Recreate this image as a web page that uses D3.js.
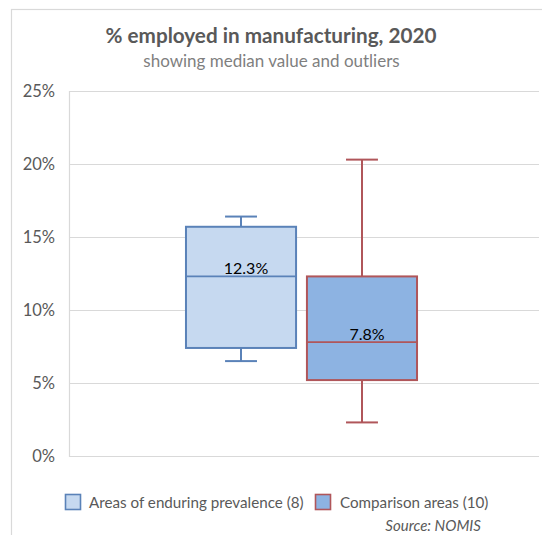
<!DOCTYPE html>
<html>
<head>
<meta charset="utf-8">
<script src="https://cdn.jsdelivr.net/npm/d3@7"></script>
<style>
  html, body { margin: 0; padding: 0; background: #fff; }
  svg { display: block; font-family: Lato, "Open Sans", sans-serif; }
</style>
</head>
<body>
<svg id="chart" width="542" height="535"></svg>
<script>
// Box-plot summary (%) for each group of areas
const series   = ["Areas of enduring prevalence (8)", "Comparison areas (10)"];
const mins     = [6.5, 2.3];
const q1s      = [7.4, 5.2];
const medians  = [12.3, 7.8];
const q3s      = [15.7, 12.3];
const maxs     = [16.4, 20.3];
const yTicks   = [0, 5, 10, 15, 20, 25];

const fills   = ["#c6d9f0", "#8db3e2"];
const strokes = ["#5a82b8", "#b0565a"];

const svg = d3.select("#chart");
const plot = { left: 69, right: 539, top: 91, bottom: 456 };

// outer chart frame
svg.append("rect")
  .attr("x", 11.5).attr("y", 9.5)
  .attr("width", 620).attr("height", 620)
  .attr("fill", "none").attr("stroke", "#d9d9d9").attr("stroke-width", 1.2);

// titles
svg.append("text")
  .attr("x", 271).attr("y", 43)
  .attr("text-anchor", "middle")
  .attr("font-size", 20.7).attr("font-weight", "bold")
  .attr("fill", "#595959")
  .text("% employed in manufacturing, 2020");
svg.append("text")
  .attr("x", 271.5).attr("y", 67)
  .attr("text-anchor", "middle")
  .attr("font-size", 17)
  .attr("fill", "#7f7f7f")
  .text("showing median value and outliers");

const y = d3.scaleLinear().domain([0, 25]).range([plot.bottom, plot.top]);
const x = d3.scaleBand().domain(series)
  .range([plot.left, plot.right - 5])
  .paddingInner(0.09).paddingOuter(0.967);

// gridlines + y axis labels
const yAxis = d3.axisLeft(y)
  .tickValues(yTicks)
  .tickFormat(d => d + "%")
  .tickSize(-(plot.right - plot.left))
  .tickPadding(14);
const gy = svg.append("g")
  .attr("transform", `translate(${plot.left},0)`)
  .call(yAxis);
gy.select(".domain").attr("stroke", "#d9d9d9").attr("stroke-width", 1.2);
gy.selectAll(".tick line").attr("stroke", "#d9d9d9").attr("stroke-width", 1.2);
gy.selectAll(".tick text")
  .attr("font-size", 16.5).attr("fill", "#595959")
  .attr("font-family", "Lato, 'Open Sans', sans-serif");

// boxes
const data = series.map((s, i) => ({
  s, i, min: mins[i], q1: q1s[i], med: medians[i], q3: q3s[i], max: maxs[i]
}));

const g = svg.append("g").selectAll("g").data(data).join("g");
const bw = x.bandwidth();
const capW = bw * 0.29;

g.each(function(d) {
  const sel = d3.select(this);
  const cx = x(d.s) + bw / 2;
  const c = strokes[d.i];
  // whiskers
  sel.append("line")
    .attr("x1", cx).attr("x2", cx)
    .attr("y1", y(d.max)).attr("y2", y(d.q3))
    .attr("stroke", c).attr("stroke-width", 2);
  sel.append("line")
    .attr("x1", cx).attr("x2", cx)
    .attr("y1", y(d.q1)).attr("y2", y(d.min))
    .attr("stroke", c).attr("stroke-width", 2);
  [d.max, d.min].forEach(v => {
    sel.append("line")
      .attr("x1", cx - capW / 2).attr("x2", cx + capW / 2)
      .attr("y1", y(v)).attr("y2", y(v))
      .attr("stroke", c).attr("stroke-width", 2);
  });
  // interquartile box
  sel.append("rect")
    .attr("x", x(d.s)).attr("width", bw)
    .attr("y", y(d.q3)).attr("height", y(d.q1) - y(d.q3))
    .attr("fill", fills[d.i]).attr("stroke", c).attr("stroke-width", 2);
  // median line and label
  sel.append("line")
    .attr("x1", x(d.s)).attr("x2", x(d.s) + bw)
    .attr("y1", y(d.med)).attr("y2", y(d.med))
    .attr("stroke", c).attr("stroke-width", 1.6);
  sel.append("text")
    .attr("x", cx + 5).attr("y", y(d.med) - 2)
    .attr("text-anchor", "middle")
    .attr("font-size", 16).attr("fill", "#000")
    .text(d3.format(".1f")(d.med) + "%");
});

// legend
const legend = [
  { x: 65, tx: 89 },
  { x: 315, tx: 340 }
];
series.forEach((s, i) => {
  svg.append("rect")
    .attr("x", legend[i].x + 0.5).attr("y", 494.5)
    .attr("width", 15).attr("height", 15)
    .attr("fill", fills[i]).attr("stroke", strokes[i]).attr("stroke-width", 1.6);
  svg.append("text")
    .attr("x", legend[i].tx).attr("y", 508)
    .attr("font-size", 15.2).attr("fill", "#595959")
    .text(s);
});

svg.append("text")
  .attr("x", 481).attr("y", 531)
  .attr("text-anchor", "end")
  .attr("font-size", 15).attr("font-style", "italic")
  .attr("fill", "#595959")
  .text("Source: NOMIS");
</script>
</body>
</html>
